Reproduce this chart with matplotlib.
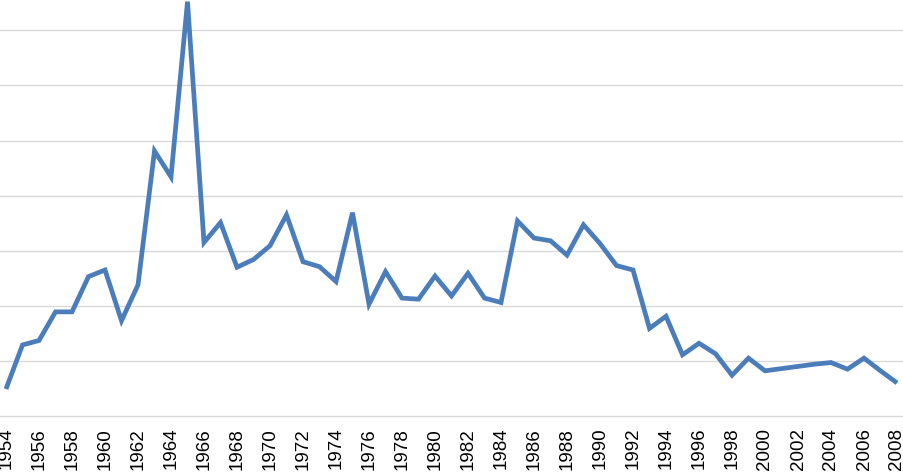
import matplotlib

matplotlib.use("Agg")
import matplotlib.pyplot as plt
import numpy as np

# ── Data (arbitrary units; 0 = bottom axis) ───────────────────────────────────
years = list(range(1954, 2009))
values = [
    0.49, 1.29, 1.37, 1.89, 1.89, 2.53, 2.65, 1.73, 2.38, 4.81,  # 1954-1963
    4.34, 7.52, 3.15, 3.51, 2.70, 2.84, 3.09, 3.65, 2.80, 2.71,  # 1964-1973
    2.44, 3.69, 2.03, 2.62, 2.14, 2.12, 2.54, 2.18, 2.59, 2.14,  # 1974-1983
    2.06, 3.54, 3.23, 3.18, 2.92, 3.47, 3.13, 2.73, 2.65, 1.59,  # 1984-1993
    1.81, 1.11, 1.32, 1.13, 0.74, 1.05, 0.82, 0.86, 0.90, 0.94,  # 1994-2003
    0.97, 0.85, 1.05, 0.82, 0.60,                                # 2004-2008
]
tick_labels = [str(y) for y in years[::2]]

# ── Plot ──────────────────────────────────────────────────────────────────────
fig = plt.figure(figsize=(9.04, 4.72), dpi=100)
ax = fig.add_axes([0, (472 - 416) / 472, 1, 416 / 472])

x = np.arange(len(years))
ax.plot(x, values, color="#4a7dba", linewidth=3.4, solid_joinstyle="miter",
        solid_capstyle="butt", zorder=3)

ax.set_xlim(-6 / 16.5, 54 + 7 / 16.5)
ax.set_ylim(0, 416 / 55.1)
ax.set_yticks(range(1, 8))
ax.yaxis.grid(True, color="#d9d9d9", linewidth=1.0)
ax.tick_params(axis="y", left=False, labelleft=False)

ax.set_xticks(x[::2])
ax.set_xticklabels(tick_labels, rotation=90, fontsize=13.5,
                   family=["Liberation Sans", "DejaVu Sans"], color="#000000")
ax.tick_params(axis="x", length=0, pad=8.5)

for side in ("top", "left", "right"):
    ax.spines[side].set_visible(False)
ax.spines["bottom"].set_color("#d9d9d9")
ax.spines["bottom"].set_linewidth(1.0)

fig.savefig("out.png", dpi=100)
